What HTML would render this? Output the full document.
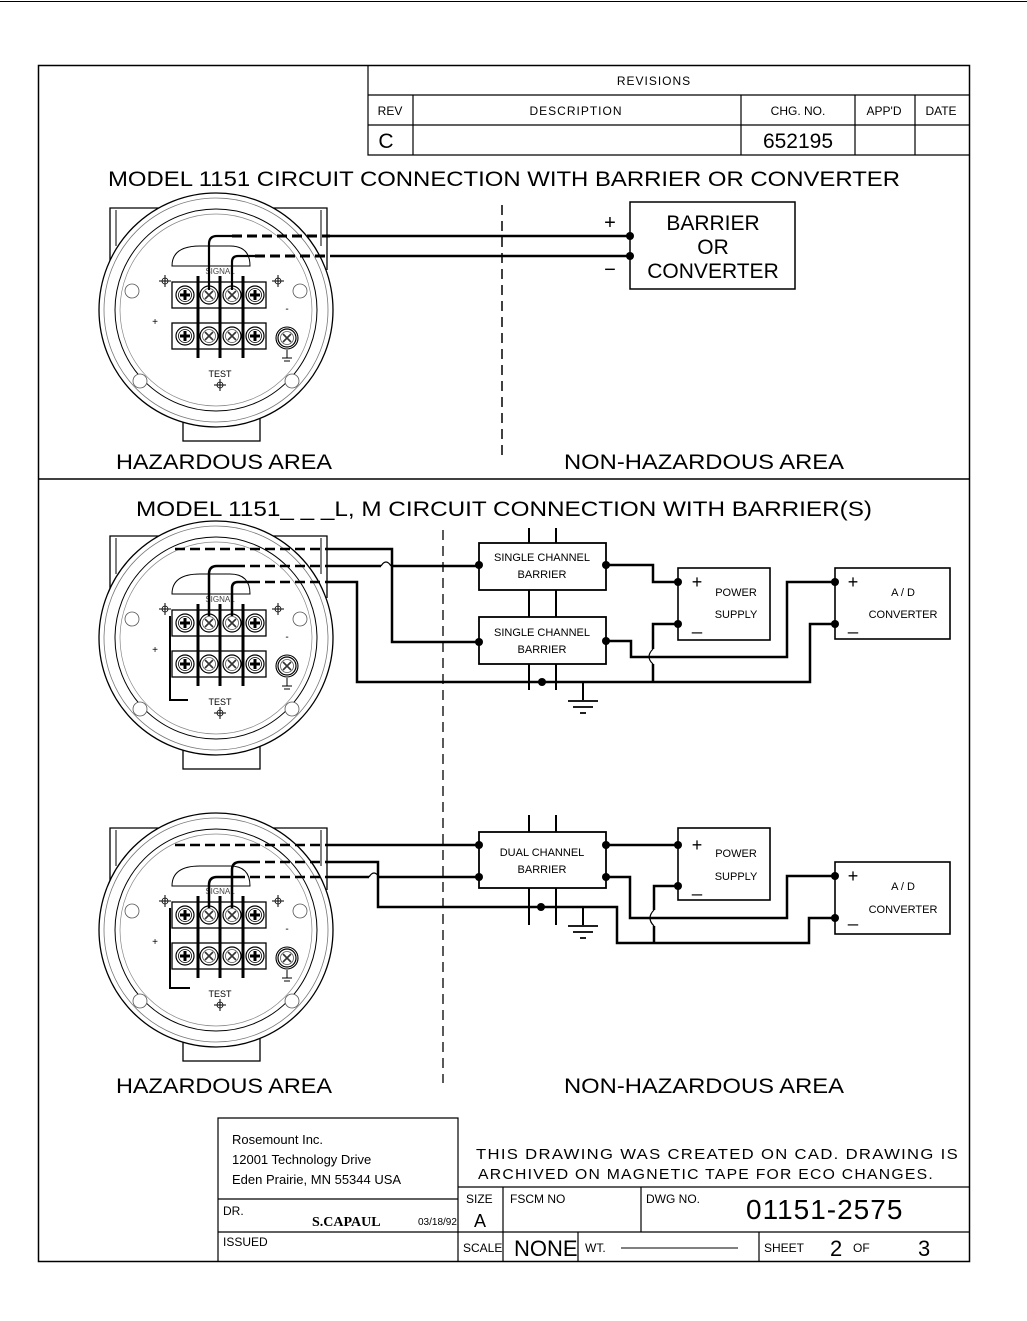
<!DOCTYPE html>
<html><head><meta charset="utf-8"><style>
html,body{margin:0;padding:0;background:#fff}
svg{display:block}
text{font-family:"Liberation Sans",sans-serif;fill:#000}
.g{fill:#444}
</style></head><body>
<svg width="1027" height="1321" viewBox="0 0 1027 1321" xmlns="http://www.w3.org/2000/svg">
<defs>
<g id="scr"><circle r="9" fill="#fff" stroke="#000" stroke-width="1.2"/><circle r="6.5" fill="none" stroke="#555" stroke-width="0.8"/><path d="M-4,-4L4,4M4,-4L-4,4" stroke="#333" stroke-width="1.6"/></g>
<g id="scp"><circle r="9" fill="#fff" stroke="#000" stroke-width="1.2"/><circle r="6.5" fill="none" stroke="#000" stroke-width="0.8"/><path d="M-5,0H5M0,-5V5" stroke="#000" stroke-width="3"/></g>
<g id="cx"><circle r="3" fill="none" stroke="#000" stroke-width="0.8"/><path d="M-6,0H6M0,-6V6" stroke="#000" stroke-width="1"/></g>
<g id="tx">
 <path d="M0,64V2H217V64" fill="none" stroke="#000" stroke-width="1.3"/>
 <path d="M6,40V4M211,40V4" fill="none" stroke="#000" stroke-width="1"/>
 <rect x="73" y="210" width="77" height="25" fill="#fff" stroke="#000" stroke-width="1.3"/>
 <circle cx="106" cy="104" r="117" fill="#fff" stroke="#000" stroke-width="1.3"/>
 <circle cx="106" cy="104" r="112" fill="none" stroke="#777" stroke-width="0.8"/>
 <circle cx="106" cy="104" r="101" fill="none" stroke="#000" stroke-width="1"/>
 <circle cx="106" cy="104" r="96" fill="none" stroke="#888" stroke-width="0.7"/>
 <circle cx="22" cy="85" r="7" fill="#fff" stroke="#555" stroke-width="0.8"/>
 <circle cx="190" cy="85" r="7" fill="#fff" stroke="#555" stroke-width="0.8"/>
 <circle cx="30" cy="175" r="7" fill="#fff" stroke="#555" stroke-width="0.8"/>
 <circle cx="182" cy="175" r="7" fill="#fff" stroke="#555" stroke-width="0.8"/>
 <path d="M62,60Q62,40 90,40H120Q140,40 140,60Z" fill="#fff" stroke="#000" stroke-width="1"/>
 <text x="110" y="68" font-size="8" text-anchor="middle" class="g">SIGNAL</text>
 <text x="110" y="171" font-size="9" text-anchor="middle">TEST</text>
 <rect x="62" y="76" width="94" height="26" fill="#fff" stroke="#000" stroke-width="1.3"/>
 <rect x="62" y="117" width="94" height="26" fill="#fff" stroke="#000" stroke-width="1.3"/>
 <use href="#scp" x="75" y="89"/><use href="#scr" x="99" y="89"/><use href="#scr" x="122" y="89"/><use href="#scp" x="145" y="89"/>
 <use href="#scp" x="75" y="130"/><use href="#scr" x="99" y="130"/><use href="#scr" x="122" y="130"/><use href="#scp" x="145" y="130"/>
 <circle cx="177" cy="132" r="11" fill="#fff" stroke="#000" stroke-width="1.1"/><use href="#scr" x="177" y="132"/>
 <path d="M177,144V152M172,152H182M174,155H180" stroke="#000" stroke-width="1"/>
 <path d="M88,70V152M110,70V152M133,70V152" stroke="#000" stroke-width="3"/>
 <use href="#cx" x="55" y="75"/><use href="#cx" x="168" y="75"/><use href="#cx" x="110" y="179"/>
 <text x="45" y="119" font-size="10" text-anchor="middle">+</text>
 <text x="177" y="106" font-size="10" text-anchor="middle">-</text>
</g>
</defs>

<line x1="0" y1="1.5" x2="1027" y2="1.5" stroke="#000" stroke-width="1"/>
<rect x="38.5" y="65.5" width="931" height="1196" fill="none" stroke="#000" stroke-width="1.5"/>
<line x1="38" y1="479" x2="969" y2="479" stroke="#000" stroke-width="1.5"/>
<g stroke="#000" stroke-width="1.2" fill="none">
<path d="M368,65V155H969M368,95H969M368,125H969M413,95V155M741,95V155M855,95V155M915,95V155"/>
</g>
<g class="g" font-size="12">
<text x="654" y="85" text-anchor="middle" letter-spacing="1">REVISIONS</text>
<text x="390" y="115" text-anchor="middle">REV</text>
<text x="576" y="115" text-anchor="middle" letter-spacing="1">DESCRIPTION</text>
<text x="798" y="115" text-anchor="middle">CHG. NO.</text>
<text x="884" y="115" text-anchor="middle">APP'D</text>
<text x="941" y="115" text-anchor="middle">DATE</text>
<text x="386" y="148" text-anchor="middle" font-size="21">C</text>
<text x="798" y="148" text-anchor="middle" font-size="21">652195</text>
</g>

<text x="108" y="186" font-size="21" textLength="792" lengthAdjust="spacingAndGlyphs">MODEL  1151 CIRCUIT  CONNECTION  WITH  BARRIER  OR  CONVERTER</text>
<use href="#tx" x="110" y="206"/>
<line x1="502" y1="205" x2="502" y2="458" stroke="#000" stroke-width="1.5" stroke-dasharray="10,6"/>
<g fill="none" stroke="#000">
<path d="M209,290V244Q209,236 217,236H232" stroke-width="2.2"/>
<path d="M232,236H330" stroke-width="3" stroke-dasharray="10,5"/>
<path d="M330,236H630" stroke-width="2.5"/>
<path d="M232,290V262Q232,256 238,256H255" stroke-width="2.2"/>
<path d="M255,256H330" stroke-width="3" stroke-dasharray="10,5"/>
<path d="M330,256H630" stroke-width="2.5"/>
<rect x="630" y="202" width="165" height="87" stroke-width="1.5"/>
</g>
<circle cx="630" cy="236" r="4"/><circle cx="630" cy="256" r="4"/>
<text x="610" y="229" font-size="20" text-anchor="middle">+</text>
<text x="610" y="276" font-size="20" text-anchor="middle">−</text>
<g font-size="21" text-anchor="middle">
<text x="713" y="230">BARRIER</text><text x="713" y="254">OR</text><text x="713" y="278">CONVERTER</text></g>
<text x="116" y="469" font-size="21" textLength="216" lengthAdjust="spacingAndGlyphs">HAZARDOUS  AREA</text>
<text x="564" y="469" font-size="21" textLength="280" lengthAdjust="spacingAndGlyphs">NON-HAZARDOUS  AREA</text>

<text x="136" y="516" font-size="21" textLength="736" lengthAdjust="spacingAndGlyphs">MODEL  1151_ _ _L, M   CIRCUIT  CONNECTION  WITH  BARRIER(S)</text>
<line x1="443" y1="530" x2="443" y2="1083" stroke="#000" stroke-width="1.3" stroke-dasharray="10,6"/>
<use href="#tx" x="110" y="534"/>
<use href="#tx" x="110" y="826"/>

<g fill="none" stroke="#000" stroke-width="2.5">
<path d="M209,616V574Q209,566 217,566H235"/>
<path d="M232,616V588Q232,582 238,582H250"/>
<path d="M175,549H330" stroke-dasharray="10,5"/>
<path d="M235,566H330" stroke-dasharray="10,5"/>
<path d="M250,582H330" stroke-dasharray="10,5"/>
<path d="M330,549H392V642H479"/>
<path d="M330,566H381M391,566H479"/>
<path d="M381,566Q386,558 391,566" stroke-width="1.2"/>
<path d="M330,582H357V682H810V624H835"/>
<path d="M170,616V700H188" stroke-width="2"/>
<path d="M529,528V543M556,528V543M529,590V617M556,590V617M529,664V690M556,664V690" stroke-width="2"/>
<rect x="479" y="543" width="127" height="47" stroke-width="1.8"/>
<rect x="479" y="617" width="127" height="47" stroke-width="1.8"/>
<path d="M606,565H653V582H678"/>
<path d="M678,624H653V649M653,664V682"/>
<path d="M653,649Q645,657 653,664" stroke-width="1.2"/>
<path d="M606,641H631V657H787V582H835"/>
<path d="M583,682V700" stroke-width="2"/>
<path d="M568,701H598M573,707H593M580,713H586" stroke-width="1.8"/>
<rect x="678" y="568" width="92" height="72" stroke-width="1.6"/>
<rect x="835" y="568" width="115" height="71" stroke-width="1.6"/>
</g>
<g>
<circle cx="479" cy="565" r="4"/><circle cx="479" cy="642" r="4"/><circle cx="606" cy="565" r="4"/><circle cx="606" cy="641" r="4"/>
<circle cx="542" cy="682" r="4"/><circle cx="678" cy="582" r="4"/><circle cx="678" cy="624" r="4"/><circle cx="835" cy="582" r="4"/><circle cx="835" cy="624" r="4"/>
</g>
<g font-size="11" text-anchor="middle" class="g">
<text x="542" y="561">SINGLE  CHANNEL</text><text x="542" y="578">BARRIER</text>
<text x="542" y="636">SINGLE  CHANNEL</text><text x="542" y="653">BARRIER</text>
<text x="736" y="596">POWER</text><text x="736" y="618">SUPPLY</text>
<text x="903" y="596">A / D</text><text x="903" y="618">CONVERTER</text>
</g>
<g font-size="18" text-anchor="middle">
<text x="697" y="588">+</text><text x="697" y="630">_</text>
<text x="853" y="588">+</text><text x="853" y="630">_</text>
</g>

<g fill="none" stroke="#000" stroke-width="2.5">
<path d="M209,908V885Q209,877 217,877H235"/>
<path d="M232,908V870Q232,862 240,862H250"/>
<path d="M175,845H330" stroke-dasharray="10,5"/>
<path d="M235,877H330" stroke-dasharray="10,5"/>
<path d="M250,862H330" stroke-dasharray="10,5"/>
<path d="M330,845H479"/>
<path d="M330,877H369M379,877H479"/>
<path d="M369,877Q374,869 379,877" stroke-width="1.2"/>
<path d="M330,862H378V907H617V943H809V918H835"/>
<path d="M170,908V988H190" stroke-width="2"/>
<path d="M529,815V832M556,815V832M529,888V925M556,888V925" stroke-width="2"/>
<rect x="479" y="832" width="127" height="56" stroke-width="1.8"/>
<path d="M606,845H678"/>
<path d="M678,886H654V910M654,926V943"/>
<path d="M654,910Q646,918 654,926" stroke-width="1.2"/>
<path d="M606,877H630V918H787V876H835"/>
<path d="M583,907V925" stroke-width="2"/>
<path d="M568,926H598M573,932H593M580,938H586" stroke-width="1.8"/>
<rect x="678" y="828" width="92" height="72" stroke-width="1.6"/>
<rect x="835" y="862" width="115" height="72" stroke-width="1.6"/>
</g>
<g>
<circle cx="479" cy="845" r="4"/><circle cx="479" cy="877" r="4"/><circle cx="606" cy="845" r="4"/><circle cx="606" cy="877" r="4"/>
<circle cx="541" cy="907" r="4"/><circle cx="678" cy="845" r="4"/><circle cx="678" cy="886" r="4"/><circle cx="835" cy="876" r="4"/><circle cx="835" cy="918" r="4"/>
</g>
<g font-size="11" text-anchor="middle" class="g">
<text x="542" y="856">DUAL  CHANNEL</text><text x="542" y="873">BARRIER</text>
<text x="736" y="857">POWER</text><text x="736" y="880">SUPPLY</text>
<text x="903" y="890">A / D</text><text x="903" y="913">CONVERTER</text>
</g>
<g font-size="18" text-anchor="middle">
<text x="697" y="851">+</text><text x="697" y="892">_</text>
<text x="853" y="882">+</text><text x="853" y="922">_</text>
</g>
<text x="116" y="1093" font-size="21" textLength="216" lengthAdjust="spacingAndGlyphs">HAZARDOUS  AREA</text>
<text x="564" y="1093" font-size="21" textLength="280" lengthAdjust="spacingAndGlyphs">NON-HAZARDOUS  AREA</text>

<g fill="none" stroke="#000" stroke-width="1.2">
<path d="M218,1261V1118H458V1261M218,1199H458M218,1232H969M458,1187H969M503,1187V1261M641,1187V1232M578,1232V1261M759,1232V1261"/>
<path d="M621,1248H738" stroke-width="1"/>
</g>
<g font-size="13">
<text x="232" y="1144">Rosemount Inc.</text>
<text x="232" y="1164">12001 Technology  Drive</text>
<text x="232" y="1184">Eden  Prairie, MN  55344  USA</text>
</g>
<g class="g">
<text x="476" y="1159" font-size="15" letter-spacing="1.2" textLength="483" lengthAdjust="spacingAndGlyphs">THIS DRAWING WAS CREATED ON CAD. DRAWING IS</text>
<text x="478" y="1179" font-size="15" letter-spacing="1.2" textLength="456" lengthAdjust="spacingAndGlyphs">ARCHIVED ON MAGNETIC TAPE FOR ECO CHANGES.</text>
<text x="223" y="1215" font-size="12">DR.</text>
<text x="223" y="1246" font-size="12">ISSUED</text>
<text x="466" y="1203" font-size="12">SIZE</text>
<text x="474" y="1227" font-size="18">A</text>
<text x="510" y="1203" font-size="12">FSCM  NO</text>
<text x="646" y="1203" font-size="12">DWG  NO.</text>
<text x="746" y="1219" font-size="28" letter-spacing="1">01151-2575</text>
<text x="463" y="1252" font-size="12">SCALE</text>
<text x="514" y="1256" font-size="22">NONE</text>
<text x="585" y="1252" font-size="12">WT.</text>
<text x="764" y="1252" font-size="12">SHEET</text>
<text x="830" y="1256" font-size="22">2</text>
<text x="853" y="1252" font-size="12">OF</text>
<text x="918" y="1256" font-size="22">3</text>
<text x="418" y="1225" font-size="10">03/18/92</text>
</g>
<text x="312" y="1226" font-size="14" font-weight="bold" style="font-family:'Liberation Serif',serif">S.CAPAUL</text>
</svg>
</body></html>
